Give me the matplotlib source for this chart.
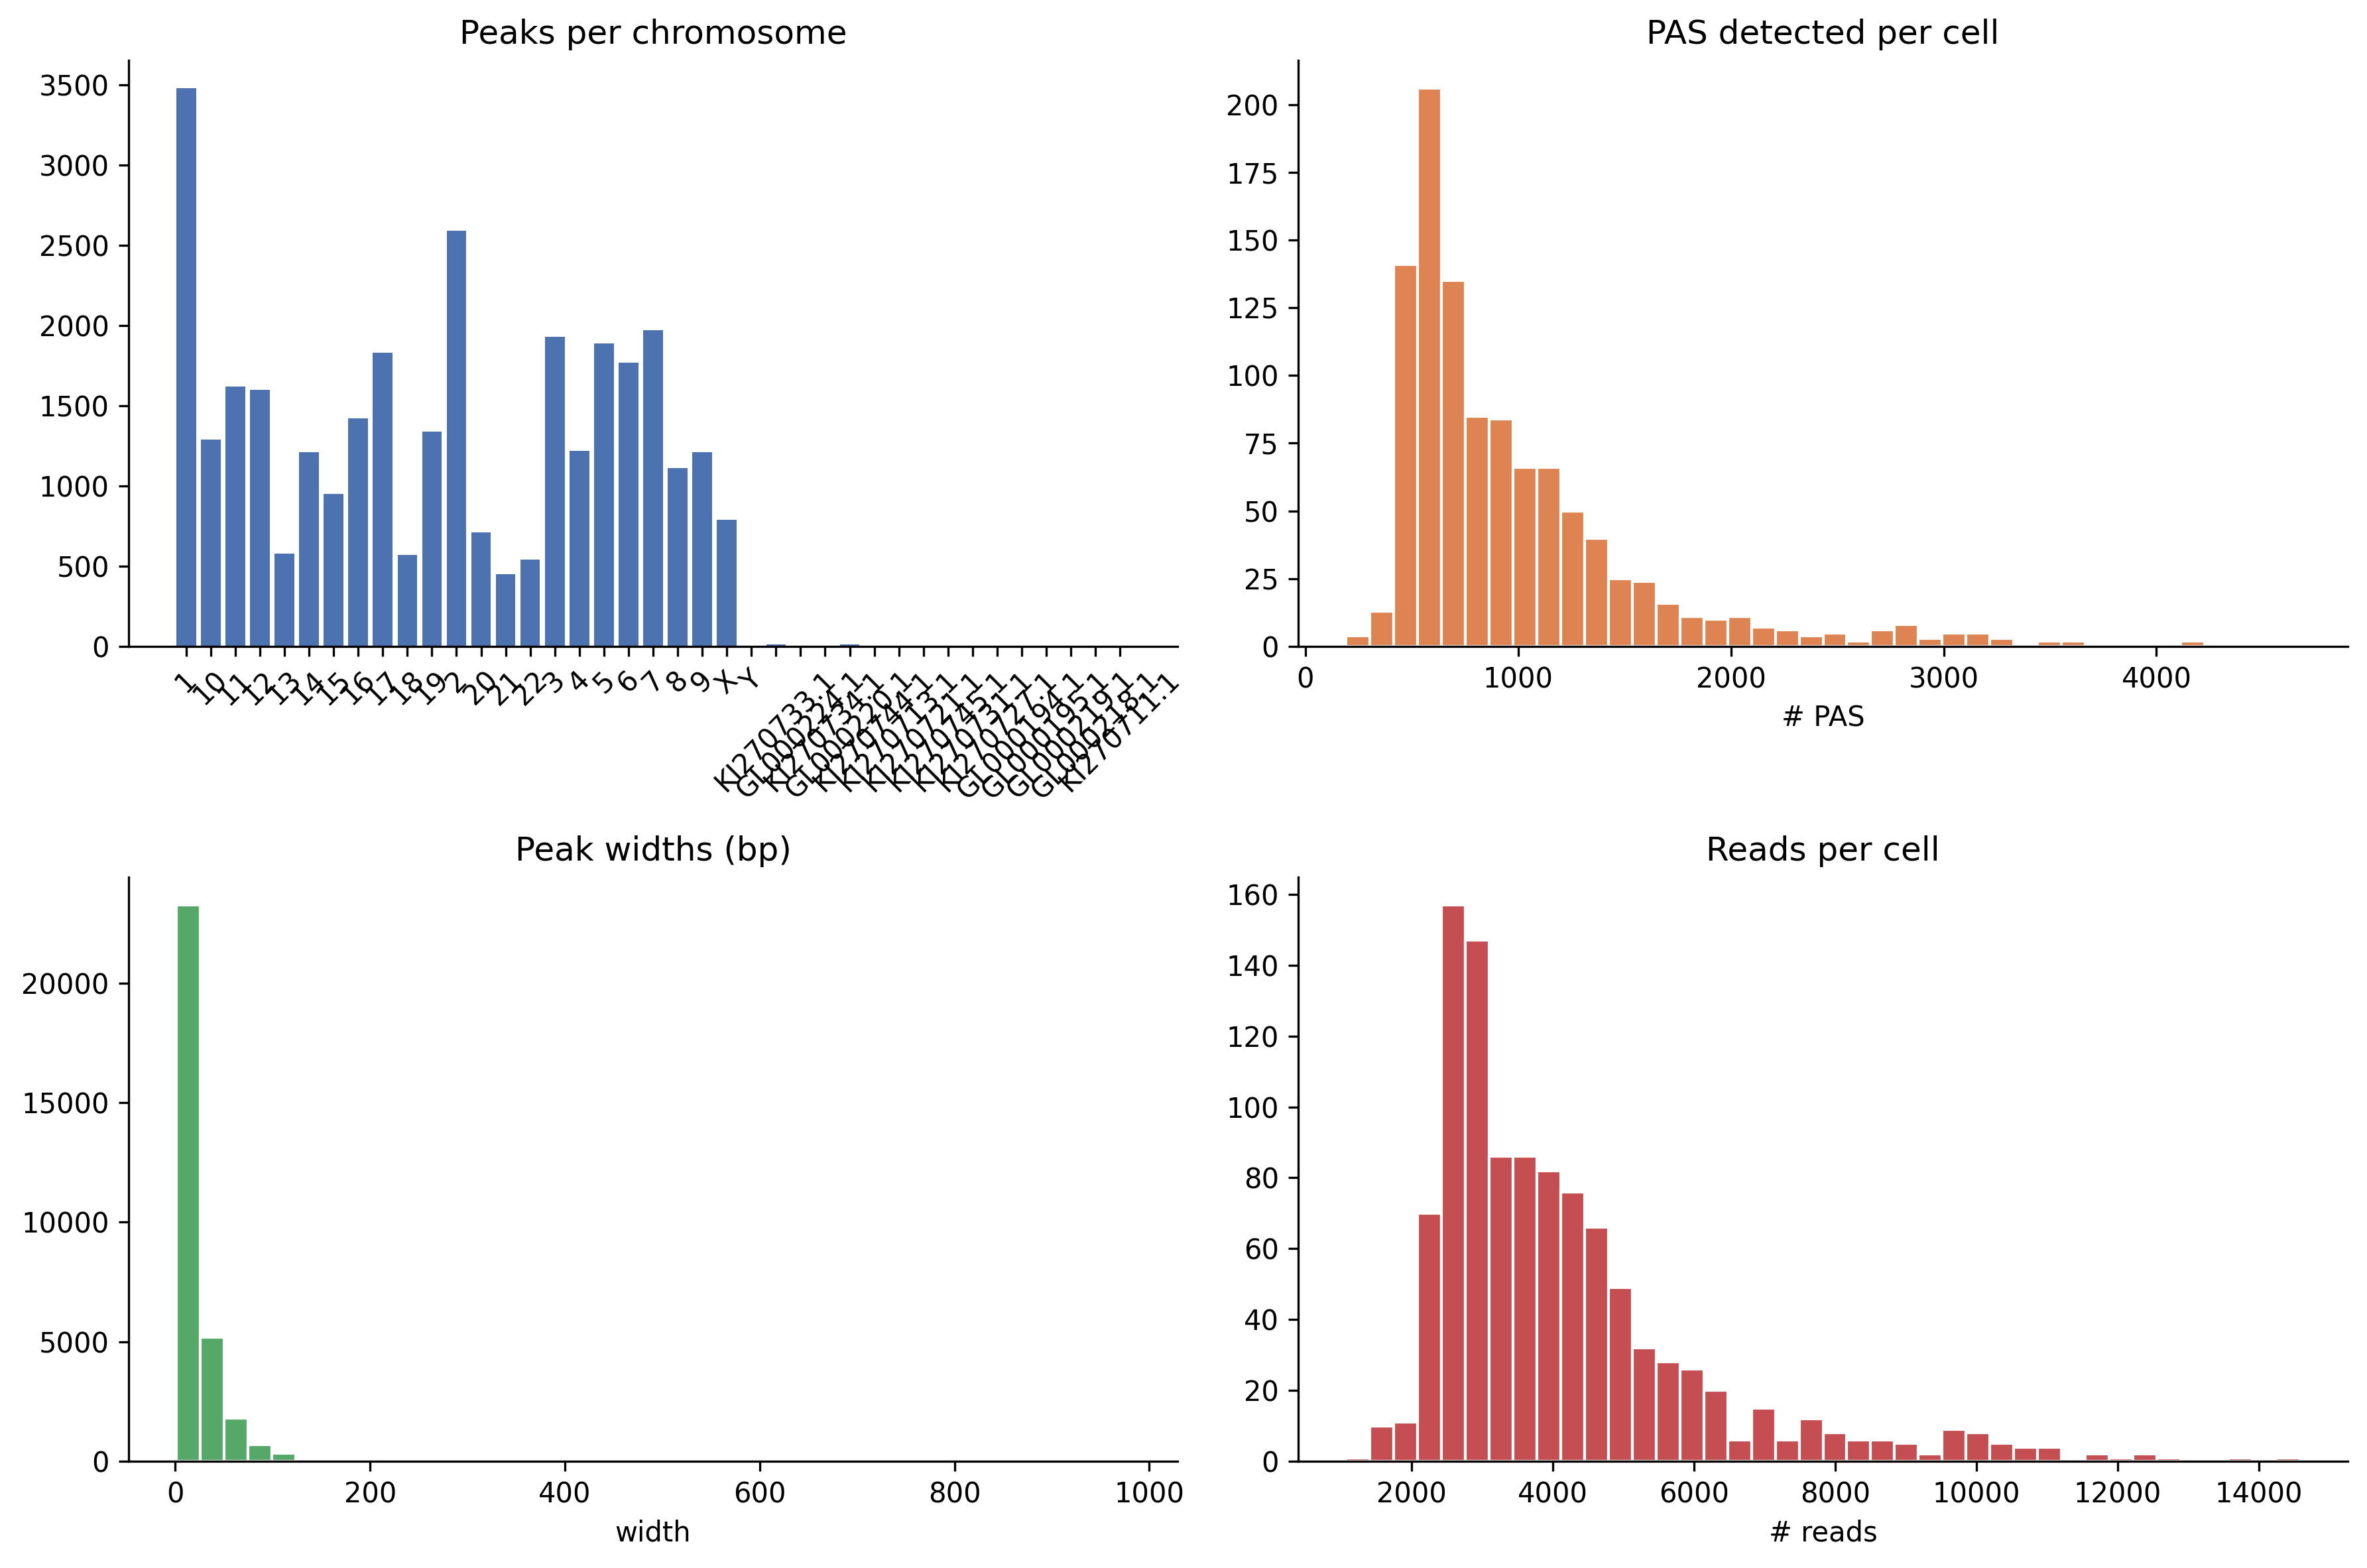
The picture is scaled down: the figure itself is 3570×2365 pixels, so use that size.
import numpy as np
import matplotlib
matplotlib.use("Agg")
import matplotlib.pyplot as plt

# ---------------- data ----------------
chrom_names = ['1', '10', '11', '12', '13', '14', '15', '16', '17', '18', '19', '2',
               '20', '21', '22', '3', '4', '5', '6', '7', '8', '9', 'X', 'Y',
               'KI270733.1', 'GL000224.1', 'KI270734.1', 'GL000220.1', 'KI270744.1',
               'KI270713.1', 'KI270721.1', 'KI270745.1', 'KI270731.1', 'KI270727.1',
               'GL000194.1', 'GL000195.1', 'GL000219.1', 'GL000218.1', 'KI270711.1']
chrom_peaks = [3480, 1290, 1620, 1600, 580, 1210, 950, 1420, 1830, 570, 1340, 2590,
               710, 450, 540, 1930, 1220, 1890, 1770, 1970, 1110, 1210, 790, 2,
               11, 1, 1, 11, 1,
               1, 1, 1, 1, 1,
               1, 1, 1, 1, 1]

# PAS detected per cell: 40 bins between min and max
pas_range = (190, 4675)
pas_counts = [4, 13, 141, 206, 135, 85, 84, 66, 66, 50,
              40, 25, 24, 16, 11, 10, 11, 7, 6, 4,
              5, 2, 6, 8, 3, 5, 5, 3, 1, 2,
              2, 1, 0, 0, 1, 2, 0, 0, 0, 1]

# Peak widths (bp): 40 bins
width_range = (1, 980)
width_counts = [23270, 5200, 1790, 680, 340, 100, 30, 12, 6, 4,
                3, 2, 2, 1, 1, 1, 0, 1, 0, 0,
                0, 0, 0, 0, 0, 0, 0, 0, 0, 0,
                0, 0, 0, 0, 0, 0, 0, 0, 0, 1]

# Reads per cell: 40 bins
reads_range = (1068, 14585)
reads_counts = [1, 10, 11, 70, 157, 147, 86, 86, 82, 76,
                66, 49, 32, 28, 26, 20, 6, 15, 6, 12,
                8, 6, 6, 5, 2, 9, 8, 5, 4, 4,
                0, 2, 1, 2, 1, 0, 0, 1, 0, 1]

colors = ['#4C72B0', '#DD8452', '#55A868', '#C44E52']

# ---------------- figure ----------------
W, H = 3570, 2365
fig = plt.figure(figsize=(W / 300, H / 300), dpi=300)
plt.rcParams['font.family'] = ['DejaVu Sans']


def axes_px(left, right, top, bottom):
    return fig.add_axes([left / W, 1 - bottom / H, (right - left) / W, (bottom - top) / H])


ax1 = axes_px(194, 1776, 91, 975)
ax2 = axes_px(1958, 3541, 91, 975)
ax3 = axes_px(194, 1776, 1323, 2204)
ax4 = axes_px(1958, 3541, 1323, 2204)

# Peaks per chromosome
xpos = np.arange(len(chrom_names))
ax1.bar(xpos, chrom_peaks, width=0.8, color=colors[0])
ax1.set_xticks(xpos)
ax1.set_xticklabels(chrom_names, rotation=45)
ax1.set_title('Peaks per chromosome', fontsize=12)


def hist_from_counts(ax, rng, counts, color, xlabel, title):
    edges = np.linspace(rng[0], rng[1], len(counts) + 1)
    centers = 0.5 * (edges[:-1] + edges[1:])
    ax.hist(centers, bins=edges, weights=counts, color=color,
            edgecolor='white', linewidth=1.0)
    ax.set_xlabel(xlabel, fontsize=10)
    ax.set_title(title, fontsize=12)


hist_from_counts(ax2, pas_range, pas_counts, colors[1], '# PAS', 'PAS detected per cell')
hist_from_counts(ax3, width_range, width_counts, colors[2], 'width', 'Peak widths (bp)')
hist_from_counts(ax4, reads_range, reads_counts, colors[3], '# reads', 'Reads per cell')

for ax in (ax1, ax2, ax3, ax4):
    ax.spines['top'].set_visible(False)
    ax.spines['right'].set_visible(False)
    ax.tick_params(labelsize=10)

fig.savefig('out.png', dpi=300)
